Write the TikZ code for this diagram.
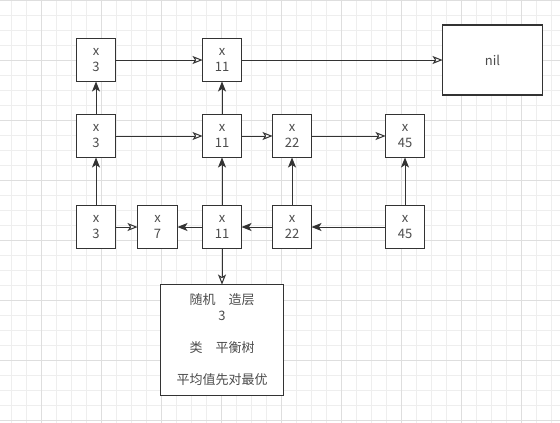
\documentclass[tikz,border=0pt]{standalone}
\usepackage{fontspec}
\setmainfont{Noto Sans CJK SC}
\usetikzlibrary{positioning,arrows.meta}
\definecolor{ink}{RGB}{51,51,51}
\definecolor{txt}{RGB}{76,76,76}
\definecolor{gridminor}{RGB}{238,238,238}
\definecolor{gridmajor}{RGB}{222,222,222}
\tikzset{
  box/.style={rectangle, draw=ink, fill=white, line width=1.1pt, minimum width=39pt, minimum height=43pt,
              inner sep=1pt, outer sep=0pt, align=center, text=txt, font=\fontsize{13}{16}\selectfont},
  fwd/.style={-{Stealth[fill=white, length=10pt, width=8pt, inset=2.5pt, line width=1pt]}, draw=ink, line width=1pt},
  rev/.style={-{Stealth[length=10pt, width=8pt, inset=2.5pt]}, draw=ink, line width=1pt},
}
\begin{document}
\begin{tikzpicture}
  \useasboundingbox (0,0) rectangle (560pt,-423pt);
  \fill[white] (0,0) rectangle (560pt,-423pt);
  \begin{scope}
    \clip (0,0) rectangle (560pt,-423pt);
    \draw[gridminor, line width=0.7pt, step=15pt, shift={(41pt,0)}] (-60pt,60pt) grid (540pt,-480pt);
    \draw[gridmajor, line width=0.7pt, step=60pt, shift={(41pt,0)}] (-60pt,60pt) grid (540pt,-480pt);
  \end{scope}

  \node[box] (top3) at (96pt,-60pt) {x\\3};
  \node[box] (top11) [right=87pt of top3] {x\\11};
  \node[box, minimum width=100pt, minimum height=70pt] (nil) [right=201pt of top11] {nil};
  \node[box] (mid3) [below=33pt of top3] {x\\3};
  \node[box] (mid11) [below=33pt of top11] {x\\11};
  \node[box] (mid22) [right=31pt of mid11] {x\\22};
  \node[box] (mid45) [right=74pt of mid22] {x\\45};
  \node[box] (low3) [below=48pt of mid3] {x\\3};
  \node[box, minimum width=40pt] (low7) [right=22pt of low3] {x\\7};
  \node[box] (low11) [below=48pt of mid11] {x\\11};
  \node[box] (low22) [below=48pt of mid22] {x\\22};
  \node[box] (low45) [below=48pt of mid45] {x\\45};
  \node[box, minimum width=123pt, minimum height=111pt] (info) [below=36pt of low11]
    {随机　造层\\3\\~\\类　平衡树\\~\\平均值先对最优};

  \draw[fwd] (top3) -- (top11);
  \draw[fwd] (top11) -- (nil);
  \draw[fwd] (mid3) -- (mid11);
  \draw[fwd] (mid11) -- (mid22);
  \draw[fwd] (mid22) -- (mid45);
  \draw[rev] (mid3) -- (top3);
  \draw[rev] (mid11) -- (top11);
  \draw[rev] (low3) -- (mid3);
  \draw[rev] (low11) -- (mid11);
  \draw[rev] (low22) -- (mid22);
  \draw[rev] (low45) -- (mid45);
  \draw[fwd] (low3) -- (low7);
  \draw[rev] (low11) -- (low7);
  \draw[rev] (low22) -- (low11);
  \draw[rev] (low45) -- (low22);
  \draw[fwd] (low11) -- (info);

\end{tikzpicture}
\end{document}
